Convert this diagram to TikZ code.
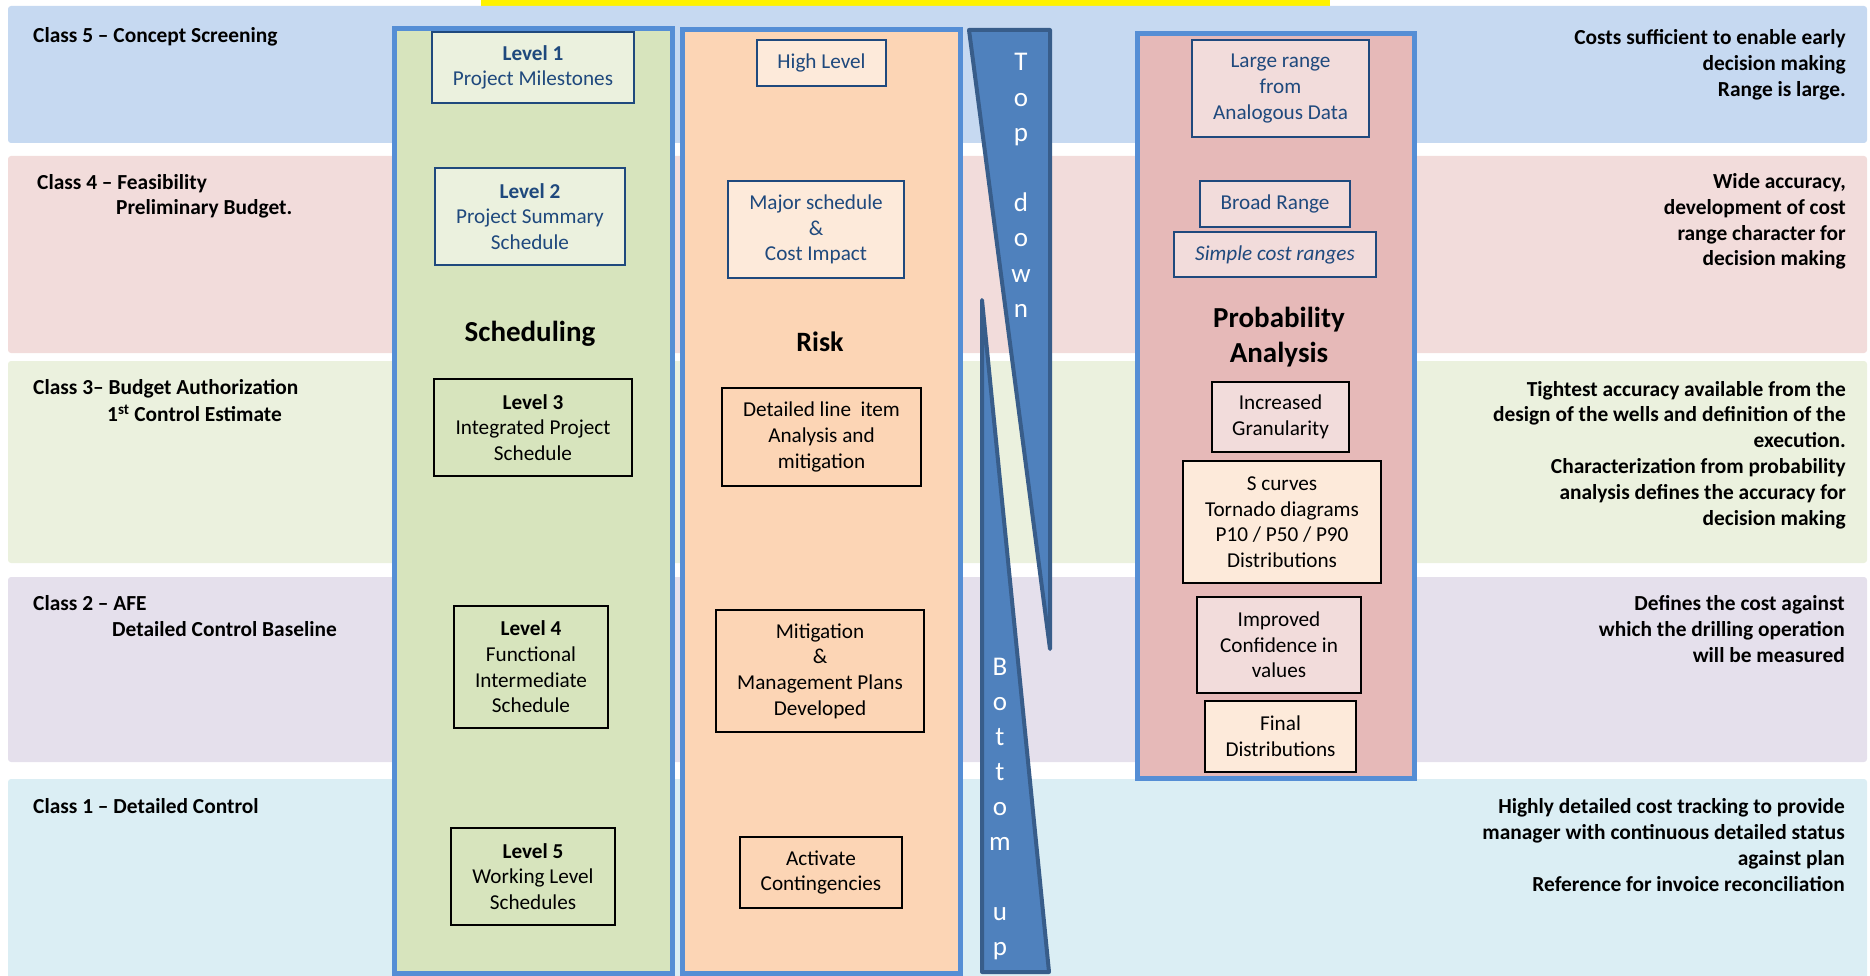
\documentclass[tikz,border=0pt]{standalone}
\usepackage{fontspec}
\setmainfont{Carlito}
\definecolor{bandA}{HTML}{C6D9F1}
\definecolor{bandB}{HTML}{F2DCDB}
\definecolor{bandC}{HTML}{EBF1DE}
\definecolor{bandD}{HTML}{E5E0EC}
\definecolor{bandE}{HTML}{DBEEF4}
\definecolor{schedfill}{HTML}{D7E4BD}
\definecolor{riskfill}{HTML}{FCD5B5}
\definecolor{probfill}{HTML}{E6B9B8}
\definecolor{colborder}{HTML}{558ED5}
\definecolor{arrfill}{HTML}{4F81BD}
\definecolor{arrdraw}{HTML}{385D8A}
\definecolor{navy}{HTML}{1F497D}
\definecolor{paleorange}{HTML}{FDEADA}
\definecolor{palepink}{HTML}{F2DCDB}
\definecolor{palegreen}{HTML}{EBF1DE}
\begin{document}
\begin{tikzpicture}[x=1pt,y=-1pt,
  band/.style={rounded corners=3pt},
  column/.style={draw=colborder,line width=5pt},
  arrowshape/.style={fill=arrfill,draw=arrdraw,line width=4pt,line join=round},
  boxbase/.style={rectangle,line width=2pt,inner sep=0pt,align=center,
    font=\fontsize{21.2}{25.6}\selectfont},
  bluebox/.style={boxbase,draw=navy,text=navy},
  blackbox/.style={boxbase,draw=black,text=black},
  heading/.style={inner sep=0pt,align=center,font=\bfseries\fontsize{29}{35}\selectfont},
  leftlbl/.style={inner sep=0pt,anchor=west,font=\bfseries\fontsize{21.4}{25.5}\selectfont},
  rightlbl/.style={inner sep=0pt,anchor=east,align=right,font=\bfseries\fontsize{21.4}{25.8}\selectfont},
  letter/.style={inner sep=0pt,anchor=base,text=white,font=\fontsize{27}{30}\selectfont}
]
\useasboundingbox (0,0) rectangle (1870,976);
\clip (0,0) rectangle (1870,976);
% yellow bar
\fill[yellow] (481,0) rectangle (1330,6);
% bands
\fill[band,bandA] (8,6) rectangle (1867,143);
\fill[band,bandB] (8,156) rectangle (1867,353);
\fill[band,bandC] (8,361) rectangle (1867,563);
\fill[band,bandD] (8,577) rectangle (1867,762);
\fill[band,bandE] (8,779) rectangle (1867,990);
% columns
\draw[column,fill=schedfill] (394.5,29) rectangle (672,973);
\draw[column,fill=riskfill] (682.5,29.5) rectangle (960,973);
\draw[column,fill=probfill] (1137,34) rectangle (1414,778.5);
% top down / bottom up shapes
\draw[arrowshape] (969,30) -- (1050,30) -- (1050,649) -- cycle;
\draw[arrowshape] (982,300) -- (982,972) -- (1049,972) -- cycle;
\foreach \ch/\i [count=\n] in {T/0,o/1,p/2,d/4,o/5,w/6,n/7}
  \node[letter] (td\n) at (1021,71+35.2*\i) {\ch};
\foreach \ch/\i [count=\n] in {B/0,o/1,t/2,t/3,o/4,m/5,u/7,p/8}
  \node[letter] (bu\n) at (1000,675+35*\i) {\ch};
% scheduling column
\node[bluebox,fill=palegreen,minimum width=202pt,minimum height=71pt] (lv1) at (533,67.5)
  {\textbf{Level 1}\\Project Milestones};
\node[bluebox,fill=palegreen,minimum width=190pt,minimum height=97pt] (lv2) at (530,216.5)
  {\textbf{Level 2}\\Project Summary\\Schedule};
\node[heading] (sched) at (530,334) {Scheduling};
\node[blackbox,fill=schedfill,minimum width=198pt,minimum height=97pt] (lv3) at (533,427.5)
  {\textbf{Level 3}\\Integrated Project\\Schedule};
\node[blackbox,fill=schedfill,minimum width=154pt,minimum height=122pt] (lv4) at (531,667)
  {\textbf{Level 4}\\Functional\\Intermediate\\Schedule};
\node[blackbox,fill=schedfill,minimum width=164pt,minimum height=97pt] (lv5) at (533,876.5)
  {\textbf{Level 5}\\Working Level\\Schedules};
% risk column
\node[bluebox,fill=paleorange,minimum width=129pt,minimum height=46pt] (hl) at (821.5,63)
  {High Level};
\node[bluebox,fill=paleorange,minimum width=176pt,minimum height=97pt] (major) at (816,229.5)
  {Major schedule\\\&\\Cost Impact};
\node[heading,font=\bfseries\fontsize{28}{34}\selectfont] (risk) at (820,342) {Risk};
\node[blackbox,fill=riskfill,minimum width=199pt,minimum height=98pt] (detl) at (821.5,437)
  {Detailed line\ \ item\\Analysis and\\mitigation};
\node[blackbox,fill=riskfill,minimum width=208pt,minimum height=122pt] (mitig) at (820,671)
  {Mitigation\\\&\\Management Plans\\Developed};
\node[blackbox,fill=riskfill,minimum width=162pt,minimum height=71pt] (activ) at (821,872.5)
  {Activate\\Contingencies};
% probability column
\node[bluebox,fill=palepink,minimum width=177pt,minimum height=97pt] (large) at (1280.5,88.5)
  {Large range\\from\\Analogous Data};
\node[bluebox,fill=palepink,minimum width=150pt,minimum height=46pt] (broad) at (1275,204)
  {Broad Range};
\node[bluebox,fill=palepink,minimum width=202pt,minimum height=45pt] (simple) at (1275,254.5)
  {\itshape Simple cost ranges};
\node[heading] (prob) at (1279,337) {Probability\\Analysis};
\node[blackbox,fill=palepink,minimum width=137pt,minimum height=70pt] (gran) at (1280.5,417)
  {Increased\\Granularity};
\node[blackbox,fill=paleorange,minimum width=198pt,minimum height=122pt] (scurv) at (1282,522)
  {S curves\\Tornado diagrams\\P10 / P50 / P90\\Distributions};
\node[blackbox,fill=palepink,minimum width=164pt,minimum height=96pt] (conf) at (1279,645)
  {Improved\\Confidence in\\values};
\node[blackbox,fill=paleorange,minimum width=151pt,minimum height=71pt] (final) at (1280.5,736.5)
  {Final\\Distributions};
% left labels
\node[leftlbl] (c5) at (33,36.5) {Class 5 – Concept Screening};
\node[leftlbl] (c4a) at (37,183.5) {Class 4 – Feasibility};
\node[leftlbl] (c4b) at (116,208.5) {Preliminary Budget.};
\node[leftlbl] (c3a) at (33,388.5) {Class 3– Budget Authorization};
\node[leftlbl] (c3b) at (107,413.5) {1\textsuperscript{st} Control Estimate};
\node[leftlbl] (c2a) at (33,603.5) {Class 2 – AFE};
\node[leftlbl] (c2b) at (112,629.5) {Detailed Control Baseline};
\node[leftlbl] (c1) at (33,806.5) {Class 1 – Detailed Control};
% right labels
\node[rightlbl] (r5) at (1846,64.5) {Costs sufficient to enable early\\decision making\\Range is large.};
\node[rightlbl] (r4) at (1846,221.5) {Wide accuracy,\\development of cost\\range character for\\decision making};
\node[rightlbl] (r3) at (1846,455) {Tightest accuracy available from the\\design of the wells and definition of the\\execution.\\Characterization from probability\\analysis defines the accuracy for\\decision making};
\node[rightlbl] (r2) at (1845,629) {Defines the cost against\\which the drilling operation\\will be measured};
\node[rightlbl] (r1) at (1845,845) {Highly detailed cost tracking to provide\\manager with continuous detailed status\\against plan\\Reference for invoice reconciliation};
\end{tikzpicture}
\end{document}
